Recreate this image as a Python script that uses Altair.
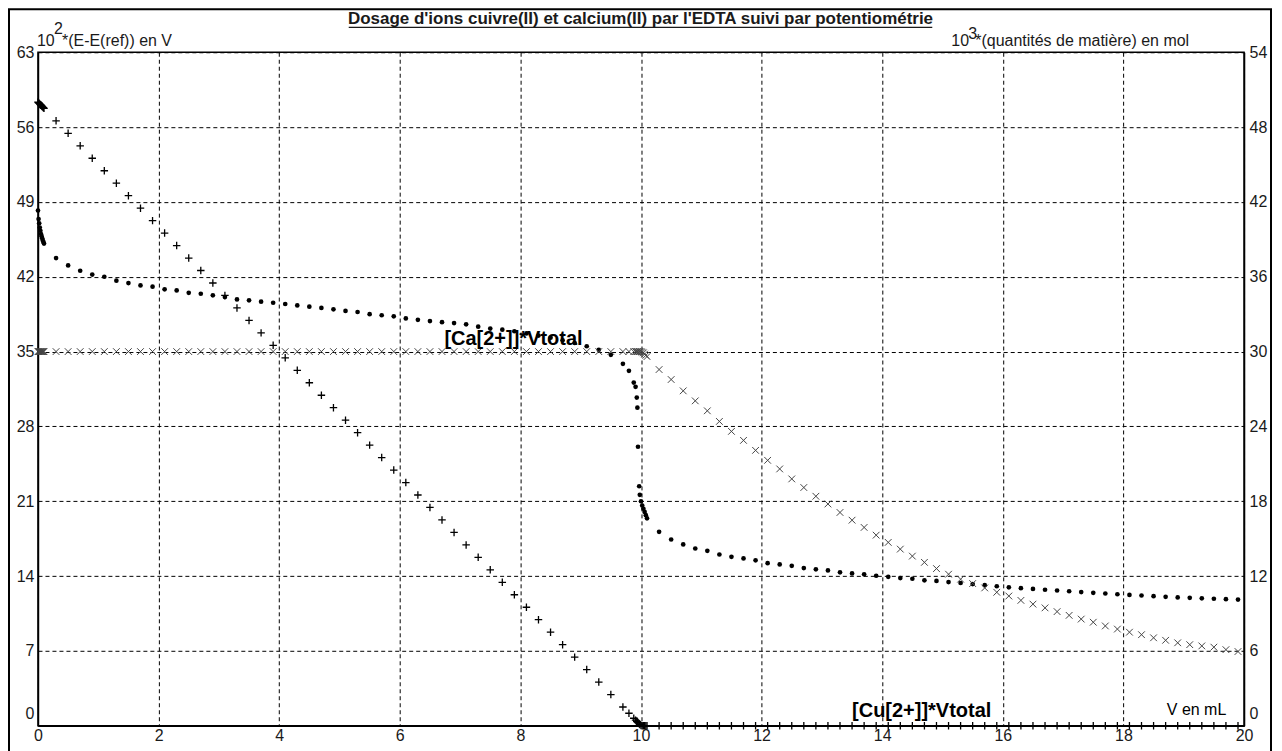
import altair as alt
import pandas as pd

# ---------------- data ----------------
volume_start = [0.0, 0.01, 0.02, 0.03, 0.04, 0.05, 0.06, 0.07, 0.08, 0.09, 0.1]
volume_mid = [0.3, 0.5, 0.7, 0.9, 1.1, 1.3, 1.5, 1.7, 1.9, 2.1, 2.3, 2.5, 2.7, 2.9,
              3.1, 3.3, 3.5, 3.7, 3.9, 4.1, 4.3, 4.5, 4.7, 4.9, 5.1, 5.3, 5.5, 5.7,
              5.9, 6.1, 6.3, 6.5, 6.7, 6.9, 7.1, 7.3, 7.5, 7.7, 7.9, 8.1, 8.3, 8.5,
              8.7, 8.9, 9.1, 9.3, 9.5, 9.7]
volume_eq = [9.8, 9.88, 9.91, 9.93, 9.94, 9.95, 9.97, 9.98, 10.0, 10.02, 10.04, 10.06, 10.08, 10.1]
volume_end = [10.3, 10.5, 10.7, 10.9, 11.1, 11.3, 11.5, 11.7, 11.9, 12.1, 12.3, 12.5,
              12.7, 12.9, 13.1, 13.3, 13.5, 13.7, 13.9, 14.1, 14.3, 14.5, 14.7, 14.9,
              15.1, 15.3, 15.5, 15.7, 15.9, 16.1, 16.3, 16.5, 16.7, 16.9, 17.1, 17.3,
              17.5, 17.7, 17.9, 18.1, 18.3, 18.5, 18.7, 18.9, 19.1, 19.3, 19.5, 19.7, 19.9]

# 10^2*(E-E(ref)) in V
potential_start = [48.2, 47.4, 47.0, 46.6, 46.3, 46.0, 45.8, 45.6, 45.4, 45.25, 45.1]
potential_mid = [43.75, 43.06, 42.56, 42.2, 42.0, 41.63, 41.41, 41.19, 41.07, 40.82,
                 40.72, 40.5, 40.41, 40.26, 40.1, 39.88, 39.79, 39.67, 39.57, 39.45,
                 39.32, 39.2, 39.08, 38.95, 38.8, 38.7, 38.5, 38.4, 38.3, 38.1,
                 37.97, 37.85, 37.75, 37.67, 37.55, 37.33, 37.15, 37.05, 36.9, 36.7,
                 36.5, 36.3, 36.05, 35.8, 35.5, 35.16, 34.7, 33.85]
potential_eq = [33.2, 32.1, 31.7, 30.7, 29.75, 26.1, 22.4, 21.6, 21.0, 20.6, 20.3, 20.0, 19.7, 19.4]
potential_end = [18.14, 17.42, 16.96, 16.58, 16.36, 16.02, 15.8, 15.65, 15.47, 15.21,
                 15.09, 14.96, 14.75, 14.63, 14.53, 14.35, 14.25, 14.16, 14.03, 13.93,
                 13.81, 13.75, 13.6, 13.55, 13.44, 13.35, 13.25, 13.15, 13.05, 12.95,
                 12.87, 12.8, 12.72, 12.65, 12.58, 12.5, 12.43, 12.37, 12.3, 12.24,
                 12.18, 12.12, 12.06, 12.0, 11.96, 11.92, 11.88, 11.84, 11.8]

# 10^3 * [Cu2+]*Vtotal (mol)
cu_start = [50.0, 49.95, 49.9, 49.85, 49.8, 49.75, 49.7, 49.65, 49.6, 49.55, 49.5]
cu_mid = [48.5, 47.5, 46.5, 45.5, 44.5, 43.5, 42.5, 41.5, 40.5, 39.5, 38.5, 37.5,
          36.5, 35.5, 34.5, 33.5, 32.5, 31.5, 30.5, 29.5, 28.5, 27.5, 26.5, 25.5,
          24.5, 23.5, 22.5, 21.5, 20.5, 19.5, 18.5, 17.5, 16.5, 15.5, 14.5, 13.5,
          12.5, 11.5, 10.5, 9.5, 8.5, 7.5, 6.5, 5.5, 4.5, 3.5, 2.5, 1.5]
cu_eq = [1.0, 0.6, 0.45, 0.35, 0.3, 0.25, 0.15, 0.1, 0.02, 0.0, 0.0, 0.0, 0.0, 0.0]
cu_end = [0.0, 0.0, 0.0, 0.0, 0.0, 0.0, 0.0, 0.0, 0.0, 0.0,
          0.0, 0.0, 0.0, 0.0, 0.0, 0.0, 0.0, 0.0, 0.0, 0.0,
          0.0, 0.0, 0.0, 0.0, 0.0, 0.0, 0.0, 0.0, 0.0, 0.0,
          0.0, 0.0, 0.0, 0.0, 0.0, 0.0, 0.0, 0.0, 0.0, 0.0,
          0.0, 0.0, 0.0, 0.0, 0.0, 0.0, 0.0, 0.0, 0.0]

# 10^3 * [Ca2+]*Vtotal (mol)
ca_start = [30.0, 30.0, 30.0, 30.0, 30.0, 30.0, 30.0, 30.0, 30.0, 30.0, 30.0]
ca_mid = [30.0, 30.0, 30.0, 30.0, 30.0, 30.0, 30.0, 30.0, 30.0, 30.0, 30.0, 30.0,
          30.0, 30.0, 30.0, 30.0, 30.0, 30.0, 30.0, 30.0, 30.0, 30.0, 30.0, 30.0,
          30.0, 30.0, 30.0, 30.0, 30.0, 30.0, 30.0, 30.0, 30.0, 30.0, 30.0, 30.0,
          30.0, 30.0, 30.0, 30.0, 30.0, 30.0, 30.0, 30.0, 30.0, 30.0, 30.0, 30.0]
ca_eq = [30.0, 30.0, 30.0, 30.0, 30.0, 30.0, 30.0, 30.0, 30.0, 29.95, 29.9, 29.8, 29.7, 29.6]
ca_end = [28.56, 27.76, 26.85, 26.05, 25.25, 24.4, 23.6, 22.88, 22.08, 21.28,
          20.59, 19.79, 19.1, 18.4, 17.78, 17.1, 16.48, 15.9, 15.28, 14.7,
          14.16, 13.6, 13.1, 12.6, 12.15, 11.75, 11.4, 11.05, 10.7, 10.4,
          10.05, 9.75, 9.45, 9.15, 8.85, 8.55, 8.3, 8.0, 7.75, 7.5,
          7.3, 7.05, 6.85, 6.65, 6.5, 6.4, 6.3, 6.1, 5.95]

x_ticks = [0, 2, 4, 6, 8, 10, 12, 14, 16, 18, 20]
left_ticks = [0, 7, 14, 21, 28, 35, 42, 49, 56, 63]
right_ticks = [0, 6, 12, 18, 24, 30, 36, 42, 48, 54]

title_text = "Dosage d'ions cuivre(II) et calcium(II) par l'EDTA suivi par potentiométrie"
left_title = ["10", "2", "*(E-E(ref)) en V"]
right_title = ["10", "3", "*(quantités de matière) en mol"]
ca_label = "[Ca[2+]]*Vtotal"
cu_label = "[Cu[2+]]*Vtotal"
x_label = "V en mL"

df = pd.DataFrame({
    "V": volume_start + volume_mid + volume_eq + volume_end,
    "E": potential_start + potential_mid + potential_eq + potential_end,
    "Cu": cu_start + cu_mid + cu_eq + cu_end,
    "Ca": ca_start + ca_mid + ca_eq + ca_end,
})
one = pd.DataFrame({"k": [0]})

# ---------------- styling ----------------
FONT = "Liberation Sans, Arial, sans-serif"
W, H = 1207, 674
LBL = "#1a1a1a"
PLUS = "M-1,0L1,0M0,-1L0,1"
XMARK = "M-1,-1L1,1M-1,1L1,-1"

x_enc = alt.X(
    "V:Q",
    scale=alt.Scale(domain=[0, 20], nice=False, zero=False),
    axis=alt.Axis(values=x_ticks, grid=True, gridDash=[4, 3], gridColor="black",
                  gridOpacity=1, gridWidth=1, domainColor="black", domainWidth=1.5,
                  ticks=False, labelFont=FONT, labelFontSize=16, labelColor=LBL,
                  labelPadding=2, labelFlush=False, title=None, format="d"),
)

zero_up = {"condition": {"test": "datum.value === 0", "value": -12}, "value": 0}

left_axis = alt.Axis(orient="left", values=left_ticks, grid=True, gridDash=[4, 3],
                     gridColor="black", gridOpacity=1, gridWidth=1, domainColor="black",
                     domainWidth=1.5, ticks=False, labelFont=FONT, labelFontSize=16,
                     labelColor=LBL, labelPadding=4, labelOffset=zero_up,
                     labelFlush=False, title=None, format="d")
right_axis = alt.Axis(orient="right", values=right_ticks, grid=False, domainColor="black",
                      domainWidth=1.5, ticks=False, labelFont=FONT, labelFontSize=16,
                      labelColor=LBL, labelPadding=5, labelOffset=zero_up,
                      labelFlush=False, title=None, format="d")

left_scale = alt.Scale(domain=[0, 63], nice=False, zero=False)
right_scale = alt.Scale(domain=[0, 54], nice=False, zero=False)

# ---------------- left layer: potential ----------------
pot = alt.Chart(df).mark_point(shape="circle", filled=True, size=22, color="black",
                               opacity=1).encode(
    x=x_enc, y=alt.Y("E:Q", scale=left_scale, axis=left_axis))

frame = alt.Chart(one).mark_rect(fillOpacity=0, stroke="black", strokeWidth=2).encode(
    x=alt.value(-29), x2=alt.value(W + 27), y=alt.value(-43), y2=alt.value(H + 60))


def txt(s, x, y, size=16, weight="normal", align="left"):
    return alt.Chart(one).mark_text(text=s, font=FONT, fontSize=size, fontWeight=weight,
                                    align=align, baseline="alphabetic",
                                    color=LBL).encode(x=alt.value(x), y=alt.value(y))


title = txt(title_text, 603, -28, size=17, weight="bold", align="center")
underline = alt.Chart(one).mark_rule(color=LBL, strokeWidth=1.2).encode(
    x=alt.value(311), x2=alt.value(895), y=alt.value(-25))

lt = [txt(left_title[0], -1, -6), txt(left_title[1], 16, -18), txt(left_title[2], 24, -6)]
rt = [txt(right_title[0], 914, -6), txt(right_title[1], 931, -13), txt(right_title[2], 938, -6)]

left_layer = alt.layer(pot, frame, title, underline, *lt, *rt)

# ---------------- right layer: quantities ----------------
ca = alt.Chart(df).mark_point(shape=XMARK, filled=False, size=45, strokeWidth=1,
                              color="#444444", opacity=1).encode(
    x=x_enc, y=alt.Y("Ca:Q", scale=right_scale, axis=right_axis))
cu = alt.Chart(df).mark_point(shape=PLUS, filled=False, size=56, strokeWidth=1.3,
                              color="black", opacity=1).encode(
    x=x_enc, y=alt.Y("Cu:Q", scale=right_scale, axis=right_axis))


def dlabel(s, v, q, size=20, weight="bold"):
    return alt.Chart(one).mark_text(text=s, font=FONT, fontSize=size, fontWeight=weight,
                                    align="left", baseline="middle", color="black").encode(
        x=alt.datum(v), y=alt.datum(q))


labels = [dlabel(ca_label, 6.74, 31.0), dlabel(cu_label, 13.5, 1.16),
          dlabel(x_label, 18.72, 1.3, size=16, weight="normal")]

right_layer = alt.layer(ca, cu, *labels)

chart = alt.layer(left_layer, right_layer).resolve_scale(y="independent").properties(
    width=W, height=H,
    autosize=alt.AutoSizeParams(type="none"),
    padding={"left": 30, "top": 44, "right": 30, "bottom": 25},
    background="white",
).configure_view(stroke="black", strokeWidth=1.5)

chart.save("out.html", embed_options={"renderer": "svg", "actions": False})
